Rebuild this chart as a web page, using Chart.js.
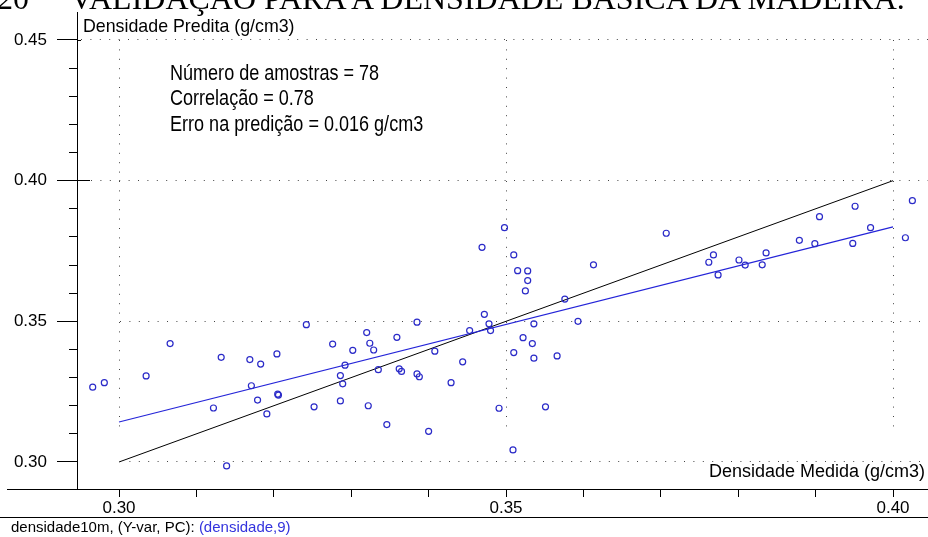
<!DOCTYPE html>
<html>
<head>
<meta charset="utf-8">
<script src="https://cdn.jsdelivr.net/npm/chart.js@4"></script>
<style>
  html, body { margin: 0; padding: 0; background: #fff; }
  #wrap { position: relative; width: 928px; height: 537px; overflow: hidden; background: #fff; }
  #c { position: absolute; left: 0; top: 0; }
  .t { position: absolute; white-space: nowrap; line-height: 1; font-family: "Liberation Sans", Arial, sans-serif; color: #000; pointer-events: none; }
  .serif { font-family: "Liberation Serif", "Times New Roman", serif; }
  .hl { position: absolute; height: 1px; background: #000; }
</style>
</head>
<body>
<div id="wrap">
  <canvas id="c" width="928" height="537"></canvas>
  <div class="t serif" style="left:-3px; top:-18px; font-size:32px;">20</div>
  <div class="t serif" style="left:70px; top:-18px; font-size:32px;">VALIDAÇÃO PARA A DENSIDADE BÁSICA DA MADEIRA.</div>
  <div class="t" style="left:83px; top:18px; font-size:17.8px;">Densidade Predita (g/cm3)</div>
  <div class="t" style="left:170px; top:62px; font-size:22px; transform:scaleX(0.82); transform-origin:0 0;">Número de amostras = 78</div>
  <div class="t" style="left:170px; top:87px; font-size:22px; transform:scaleX(0.82); transform-origin:0 0;">Correlação = 0.78</div>
  <div class="t" style="left:170px; top:113px; font-size:22px; transform:scaleX(0.82); transform-origin:0 0;">Erro na predição = 0.016 g/cm3</div>
  <div class="t" style="right:3px; top:462px; font-size:18px;">Densidade Medida (g/cm3)</div>
  <div class="hl" style="left:7px; width:71px; top:489px;"></div>
  <div class="hl" style="left:77px; width:4px; top:40px;"></div>
  <div class="hl" style="left:77px; width:13px; top:180px;"></div>
  <div class="hl" style="left:0; width:928px; top:517px;"></div>
  <div class="t" style="left:11px; top:519px; font-size:15px;">densidade10m, (Y-var, PC): <span style="color:#3333dd">(densidade,9)</span></div>
</div>
<script>
// Measured density (x) and predicted density (y) for the 78 samples
const measured = [
  0.2966, 0.2981, 0.3035, 0.3066, 0.3132, 0.3122, 0.3169, 0.3183, 0.3204, 0.3171,
  0.3179, 0.3206, 0.3205, 0.3191, 0.3139, 0.3498, 0.3469, 0.3510, 0.3515, 0.3528,
  0.3528, 0.3525, 0.3613, 0.3576, 0.3472, 0.3478, 0.3480, 0.3453, 0.3242, 0.3385,
  0.3320, 0.3359, 0.3276, 0.3324, 0.3302, 0.3329, 0.3408, 0.3292, 0.3286, 0.3289,
  0.3335, 0.3362, 0.3365, 0.3385, 0.3388, 0.3444, 0.3429, 0.3252, 0.3286, 0.3322,
  0.3346, 0.3400, 0.3491, 0.3509, 0.3551, 0.3566, 0.3536, 0.3534, 0.3522, 0.3510,
  0.3536, 0.3593, 0.4025, 0.3951, 0.3905, 0.3707, 0.4016, 0.3971, 0.3948, 0.3879,
  0.3899, 0.3836, 0.3831, 0.3801, 0.3809, 0.3768, 0.3762, 0.3774
];
const predicted = [
  0.3266, 0.3282, 0.3306, 0.3421, 0.3372, 0.3192, 0.3364, 0.3348, 0.3384, 0.3271,
  0.3220, 0.3238, 0.3241, 0.3171, 0.2986, 0.3833, 0.3763, 0.3736, 0.3680, 0.3679,
  0.3645, 0.3608, 0.3701, 0.3579, 0.3525, 0.3491, 0.3467, 0.3467, 0.3488, 0.3497,
  0.3460, 0.3443, 0.3419, 0.3422, 0.3397, 0.3398, 0.3394, 0.3344, 0.3307, 0.3278,
  0.3328, 0.3331, 0.3322, 0.3313, 0.3303, 0.3356, 0.3282, 0.3196, 0.3217, 0.3200,
  0.3133, 0.3109, 0.3191, 0.3043, 0.3196, 0.3377, 0.3369, 0.3421, 0.3442, 0.3389,
  0.3491, 0.3500, 0.3929, 0.3909, 0.3872, 0.3813, 0.3797, 0.3833, 0.3777, 0.3788,
  0.3776, 0.3743, 0.3701, 0.3718, 0.3700, 0.3736, 0.3710, 0.3665
];
// 1:1 reference line and fitted regression line (end points)
const lineX = [0.30, 0.40];
const identityY = [0.30, 0.40];
const regressionY = [0.3142, 0.3836];
// Axis ranges and labelled ticks
const xRange = [0.29457, 0.40452];
const yRange = [0.2904, 0.45995];
const xTickLabels = ['0.30', '0.35', '0.40'];
const yTickLabels = ['0.30', '0.35', '0.40', '0.45'];

const toXY = (xs, ys) => xs.map((x, i) => ({ x: x, y: ys[i] }));
const lab = v => v.toFixed(2);
const isMajor = (v, labels) => labels.indexOf(lab(v)) >= 0 && Math.abs(Math.round(v * 1000) % 50) === 0;

function dots(lead, total) {
  const a = [0, lead];
  let len = lead;
  while (len < total) { a.push(1, 8.4); len += 9.4; }
  a.push(0, 2000);
  return a;
}

Chart.defaults.font.family = '"Liberation Sans", Arial, sans-serif';
Chart.defaults.font.size = 17;
Chart.defaults.color = '#000';

new Chart(document.getElementById('c'), {
  type: 'scatter',
  data: {
    datasets: [
      {
        data: toXY(measured, predicted),
        pointStyle: 'circle',
        pointRadius: 3,
        pointBorderWidth: 1.2,
        borderColor: '#2a2ac8',
        backgroundColor: 'rgba(0,0,0,0)',
        pointHoverRadius: 3
      },
      {
        data: toXY(lineX, regressionY),
        showLine: true,
        borderColor: '#2424d8',
        borderWidth: 1.2,
        pointRadius: 0
      },
      {
        data: toXY(lineX, identityY),
        showLine: true,
        borderColor: '#000',
        borderWidth: 1,
        pointRadius: 0
      }
    ]
  },
  options: {
    responsive: false,
    animation: false,
    devicePixelRatio: 1,
    layout: { autoPadding: false, padding: { top: 12, left: 0, right: 0, bottom: 0 } },
    plugins: { legend: { display: false }, tooltip: { enabled: false } },
    events: [],
    scales: {
      x: {
        type: 'linear',
        position: 'bottom',
        min: xRange[0],
        max: xRange[1],
        afterFit: s => { s.height = 48; s.paddingLeft = 0; s.paddingRight = 0; },
        ticks: {
          stepSize: 0.01,
          includeBounds: false,
          autoSkip: false,
          maxRotation: 0,
          padding: 1,
          color: '#000',
          callback: v => (isMajor(v, xTickLabels) ? lab(v) : '')
        },
        grid: {
          drawOnChartArea: true,
          color: c => (isMajor(c.tick.value, xTickLabels) ? '#444' : 'rgba(0,0,0,0)'),
          lineWidth: 1,
          tickLength: 8,
          tickColor: '#000',
          tickWidth: 1
        },
        border: {
          display: true,
          color: '#000',
          width: 1,
          dash: () => dots(28, 420)
        }
      },
      y: {
        type: 'linear',
        position: 'left',
        min: yRange[0],
        max: yRange[1],
        afterFit: s => { s.width = 77; s.paddingTop = 0; s.paddingBottom = 0; },
        ticks: {
          stepSize: 0.01,
          includeBounds: false,
          autoSkip: false,
          padding: 10,
          color: '#000',
          callback: v => (isMajor(v, yTickLabels) ? lab(v) : '')
        },
        grid: {
          drawOnChartArea: true,
          color: c => (isMajor(c.tick.value, yTickLabels) ? '#444' : 'rgba(0,0,0,0)'),
          lineWidth: 1,
          tickLength: 20,
          tickColor: '#000',
          tickWidth: 1,
          tickBorderDash: c => (isMajor(c.tick.value, yTickLabels) ? [] : [0, 12, 8, 200])
        },
        border: {
          display: true,
          color: '#000',
          width: 1,
          dash: c => {
            const v = c.tick ? c.tick.value : 0;
            const lead = Math.abs(v - 0.45) < 1e-6 ? 3 : (Math.abs(v - 0.40) < 1e-6 ? 13 : 42);
            return dots(lead, 900);
          }
        }
      }
    }
  }
});
</script>
</body>
</html>
